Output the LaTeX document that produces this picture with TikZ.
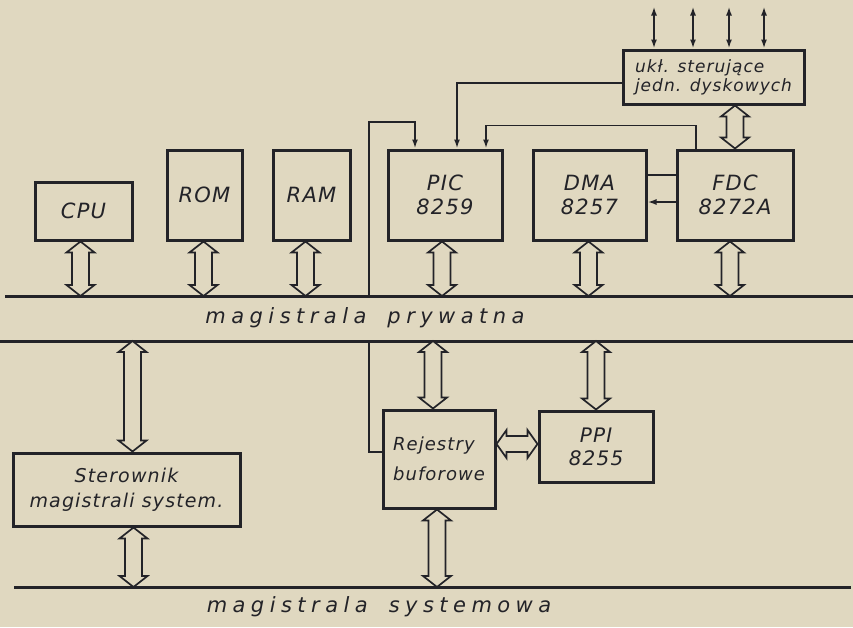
\documentclass[tikz,border=0pt]{standalone}
\usepackage{fontspec}
\setmainfont{DejaVu Sans}
\newfontfamily\hand{DejaVu Sans Oblique}[LetterSpace=6]
\usetikzlibrary{arrows.meta,calc}
\definecolor{paper}{RGB}{224,216,192}
\definecolor{ink}{RGB}{35,35,40}
\tikzset{
  unit/.style={draw=ink, line width=3pt, fill=paper, inner sep=2pt, align=center, text=ink,
    font=\hand\fontsize{21}{24}\selectfont},
  sig/.style={draw=ink, line width=1.8pt, >={Latex[length=9pt,width=6pt]}},
  bus/.style={draw=ink, line width=3pt},
  buslabel/.style={text=ink, inner sep=0pt, font=\hand\fontsize{21}{24}\selectfont\addfontfeature{LetterSpace=26}},
  % hollow double arrow, top to bottom
  vbus/.style={draw=ink, line width=1.7pt, fill=paper, to path={
    let \p1=(\tikztostart), \p2=(\tikztotarget) in
    (\x1,\y1) -- (\x1+14pt,\y1-11pt) -- (\x1+8.5pt,\y1-11pt) -- (\x1+8.5pt,\y2+11pt)
    -- (\x1+14pt,\y2+11pt) -- (\x1,\y2) -- (\x1-14pt,\y2+11pt) -- (\x1-8.5pt,\y2+11pt)
    -- (\x1-8.5pt,\y1-11pt) -- (\x1-14pt,\y1-11pt) -- cycle}},
  % hollow double arrow, left to right
  hbus/.style={draw=ink, line width=1.7pt, fill=paper, to path={
    let \p1=(\tikztostart), \p2=(\tikztotarget) in
    (\x1,\y1) -- (\x1+10pt,\y1+14pt) -- (\x1+10pt,\y1+8pt) -- (\x2-10pt,\y1+8pt)
    -- (\x2-10pt,\y1+14pt) -- (\x2,\y1) -- (\x2-10pt,\y1-14pt) -- (\x2-10pt,\y1-8pt)
    -- (\x1+10pt,\y1-8pt) -- (\x1+10pt,\y1-14pt) -- cycle}},
}
\begin{document}
\begin{tikzpicture}[x=1pt, y=-1pt]

  \fill[paper] (0,0) rectangle (853,627);
  \useasboundingbox (0,0) rectangle (853,627);

  % magistrale
  \coordinate (pbusW) at (5,296);   \coordinate (pbusE) at (853,296);
  \coordinate (mbusW) at (0,341);   \coordinate (mbusE) at (853,341);
  \coordinate (sbusW) at (14,587);  \coordinate (sbusE) at (851,587);
  \draw[bus] (pbusW) -- (pbusE);
  \draw[bus] (mbusW) -- (mbusE);
  \draw[bus] (sbusW) -- (sbusE);
  \node[buslabel] (lpriv) at (365,318) {magistrala\quad prywatna};
  \node[buslabel] (lsys) at (379,607) {magistrala\quad systemowa};

  % bloki
  \node[unit, minimum width=97pt, minimum height=58pt] (cpu) at (83.5,211) {CPU};
  \node[unit, minimum width=75pt, minimum height=90pt] (rom) at (204.5,195) {ROM};
  \node[unit, minimum width=77pt, minimum height=90pt] (ram) at (311.5,195) {RAM};
  \node[unit, minimum width=114pt, minimum height=90pt] (pic) at (445,195) {PIC\\8259};
  \node[unit, minimum width=113pt, minimum height=90pt] (dma) at (589.5,195) {DMA\\8257};
  \node[unit, minimum width=116pt, minimum height=90pt] (fdc) at (735,195) {FDC\\8272A};
  \node[unit, minimum width=181pt, minimum height=54pt, align=left,
        font=\hand\fontsize{17}{19}\selectfont] (ukl) at (713.5,77) {ukł. sterujące\\jedn. dyskowych};
  \node[unit, minimum width=227pt, minimum height=73pt,
        font=\hand\fontsize{19}{25}\selectfont] (ster) at (126.5,489.5) {Sterownik\\magistrali system.};
  \node[unit, minimum width=112pt, minimum height=98pt, align=left,
        font=\hand\fontsize{18}{30}\selectfont] (rej) at (439,459) {Rejestry\\buforowe};
  \node[unit, minimum width=114pt, minimum height=71pt,
        font=\hand\fontsize{20}{23}\selectfont] (ppi) at (596,446.5) {PPI\\8255};

  % szyny do magistrali prywatnej
  \draw[vbus] ([xshift=-3pt]cpu.south) to ([xshift=-3pt]cpu.south |- pbusW);
  \draw[vbus] ([xshift=-1pt]rom.south) to ([xshift=-1pt]rom.south |- pbusW);
  \draw[vbus] ([xshift=-6pt]ram.south) to ([xshift=-6pt]ram.south |- pbusW);
  \draw[vbus] ([xshift=-3pt]pic.south) to ([xshift=-3pt]pic.south |- pbusW);
  \draw[vbus] ([xshift=-1pt]dma.south) to ([xshift=-1pt]dma.south |- pbusW);
  \draw[vbus] ([xshift=-5pt]fdc.south) to ([xshift=-5pt]fdc.south |- pbusW);
  \draw[vbus] (fdc.north |- ukl.south) to (fdc.north);

  % szyny do magistrali systemowej
  \draw[vbus] ([xshift=6pt]ster.north |- mbusW) to ([xshift=6pt]ster.north);
  \draw[vbus] ([xshift=7pt]ster.south) to ([xshift=7pt]ster.south |- sbusW);
  \draw[vbus] ([xshift=-6pt]rej.north |- mbusW) to ([xshift=-6pt]rej.north);
  \draw[vbus] ([xshift=-2pt]rej.south) to ([xshift=-2pt]rej.south |- sbusW);
  \draw[vbus] (ppi.north |- mbusW) to (ppi.north);
  \draw[hbus] ([yshift=2.5pt]rej.east |- ppi.west) to ([yshift=2.5pt]ppi.west);

  % linie sterujace
  \foreach \dx in {-59.5,-20.5,15.5,50.5}
    \draw[sig, <->] ([xshift=\dx pt]ukl.north) -- ++(0,-42);
  \draw[sig, ->] ([yshift=-6pt]ukl.west) -| ([xshift=12pt]pic.north);
  \draw[sig, ->] ([xshift=-39pt]fdc.north) -- ++(0,-23) -| ([xshift=41pt]pic.north);
  \coordinate (ptap) at (369,296);
  \coordinate (stap) at (369,341);
  \draw[sig, ->] (ptap) -- ++(0,-174) -| ([xshift=-30pt]pic.north);
  \draw[sig] (stap) |- ([yshift=7pt]rej.west);
  \draw[sig] ([yshift=20pt]dma.east) -- ([yshift=20pt]fdc.west);
  \draw[sig, ->] ([yshift=-7pt]fdc.west) -- ([yshift=-7pt]dma.east);

\end{tikzpicture}
\end{document}
